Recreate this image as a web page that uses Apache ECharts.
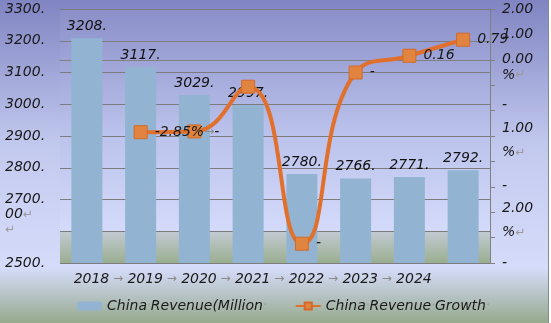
<!DOCTYPE html>
<html><head><meta charset="utf-8">
<script src="https://cdn.jsdelivr.net/npm/echarts@6/dist/echarts.min.js"></script>
<style>html,body{margin:0;padding:0;background:#fff}
#c{width:548px;height:323px;border-right:1px solid #8a8a8a;}
</style></head><body><div id="c"></div>
<script>
// ---- data ----
const categories = ['2018','2019','2020','2021','2022','2023','2024',''];
const revenue = [3208,3117,3029,2997,2780,2766,2771,2792];
const revenueLabels = ['3208.','3117.','3029.','2997.','2780.','2766.','2771.','2792.'];
const growth = [null,-2.85,-2.82,-1.06,-7.24,-0.50,0.16,0.79];
const growthLabels = ['','-2.85%{g|→}-','','','-','-','0.16','0.79'];
const leftTicks = [3300,3200,3100,3000,2900,2800,2700,2600,2500];
const leftTickLabels = ['3300.','3200.','3100.','3000.','2900.','2800.',' \n \n2700.\n00{g|↵}\n{g|↵}','','2500.'];
const rightTicks = [2,1,0,-1,-2,-3,-4,-5,-6,-7,-8];
const rightTickLabels = ['2.00','1.00','0.00','%{g|↵}','-','1.00','%{g|↵}','-','2.00','%{g|↵}','-'];
const seriesNames = ['China Revenue(Million','China Revenue Growth'];

// ---- style ----
const FONT = 'DejaVu Sans';
const TXT = '#1a1a1a';
const rightNudge = [0,0,0,10,5,8,9,0,4,5,0];
const richBase = { g: { color: '#9a9a9a', fontSize: 12, fontFamily: FONT } };
const rightRich = { g: { color: '#9a9a9a', fontSize: 12, fontFamily: FONT } };
[4,5,8,9,10].forEach(d => { rightRich['h' + d] = { lineHeight: 2 * d, fontSize: 14, fontStyle: 'italic', fontFamily: FONT, color: TXT }; });

const chart = echarts.init(document.getElementById('c'), null, { renderer: 'canvas' });
const G = echarts.graphic.LinearGradient;
chart.setOption({
  animation: false,
  backgroundColor: new G(0, 0, 0, 1, [
    { offset: 0, color: '#8084c2' },
    { offset: 0.45, color: '#c2c9ee' },
    { offset: 0.83, color: '#d5dcfa' },
    { offset: 1, color: '#96a98d' }
  ]),
  textStyle: { fontFamily: FONT },
  grid: {
    left: 60, right: 58, top: 9, bottom: 60, show: true, borderWidth: 0,
    backgroundColor: new G(0, 0, 0, 1, [
      { offset: 0, color: '#8a8fc8' },
      { offset: 0.5, color: '#bcc3ec' },
      { offset: 0.873, color: '#d3dafa' },
      { offset: 0.877, color: '#c2cad2' },
      { offset: 1, color: '#9aae90' }
    ])
  },
  legend: {
    left: 77, top: 299, padding: 0, itemWidth: 25, itemHeight: 9, itemGap: 28,
    data: seriesNames,
    formatter: n => n.split(' ').join('{g|·}') + '{g|·}',
    textStyle: { fontSize: 14, fontStyle: 'italic', color: TXT, fontFamily: FONT, rich: richBase }
  },
  xAxis: {
    type: 'category', data: categories,
    axisLine: { lineStyle: { color: '#808080', width: 1 } },
    axisTick: { show: false },
    axisLabel: {
      interval: 0, margin: 9, color: TXT, fontSize: 14, fontStyle: 'italic', fontFamily: FONT,
      formatter: (v, i) => {
        if (!v) return '';
        return i < 6 ? '{a|' + v + '}{g| →}' : '{b|' + v + '}';
      },
      rich: {
        a: { padding: [0, 0, 0, 23], fontSize: 14, fontStyle: 'italic', fontFamily: FONT, color: TXT },
        b: { padding: [0, 0, 0, 9], fontSize: 14, fontStyle: 'italic', fontFamily: FONT, color: TXT },
        g: { color: '#8a8a8a', fontSize: 12, fontFamily: FONT }
      }
    }
  },
  yAxis: [
    {
      type: 'value', min: 2500, max: 3300, interval: 100,
      axisLine: { show: false }, axisTick: { show: false },
      splitLine: { lineStyle: { color: '#7c7c7c', width: 1 } },
      axisLabel: {
        align: 'left', margin: 55, color: TXT, fontSize: 14, fontStyle: 'italic', fontFamily: FONT, lineHeight: 15,
        formatter: v => { const i = leftTicks.indexOf(v); return i < 0 ? '' : leftTickLabels[i]; },
        rich: { g: { color: '#9a9a9a', fontSize: 12, fontFamily: FONT, lineHeight: 15 } }
      }
    },
    {
      type: 'value', min: -8, max: 2, interval: 1, position: 'right',
      axisLine: { show: true, lineStyle: { color: '#808080' } },
      axisTick: { show: true, length: 5, lineStyle: { color: '#808080' } },
      splitLine: { show: false },
      axisLabel: {
        margin: 12, color: TXT, fontSize: 14, fontStyle: 'italic', fontFamily: FONT, lineHeight: 2,
        formatter: v => {
          const i = rightTicks.indexOf(Math.round(v));
          if (i < 0) return '';
          const t = rightTickLabels[i], d = rightNudge[i];
          return d ? t + '{h' + d + '| }\n{h' + d + '| }' : t;
        },
        rich: rightRich
      }
    }
  ],
  series: [
    {
      name: seriesNames[0], type: 'bar', data: revenue, barWidth: 31,
      itemStyle: { color: '#92b4d2' },
      label: {
        show: true, position: 'top', distance: 5, color: '#111', fontSize: 14, fontStyle: 'italic', fontFamily: FONT,
        formatter: p => revenueLabels[p.dataIndex]
      }
    },
    {
      name: seriesNames[1], type: 'line', yAxisIndex: 1, data: growth, smooth: 0.5,
      symbol: 'rect', symbolSize: 13, z: 5,
      lineStyle: { color: '#e0702c', width: 4 },
      itemStyle: { color: '#e1843f', borderColor: '#d36a28', borderWidth: 1 },
      label: {
        show: true, position: 'right', distance: 7, color: TXT, fontSize: 14, fontStyle: 'italic', fontFamily: FONT,
        formatter: p => growthLabels[p.dataIndex],
        rich: { g: { color: '#8a8a8a', fontSize: 12, fontFamily: FONT } }
      }
    }
  ]
});
</script></body></html>
